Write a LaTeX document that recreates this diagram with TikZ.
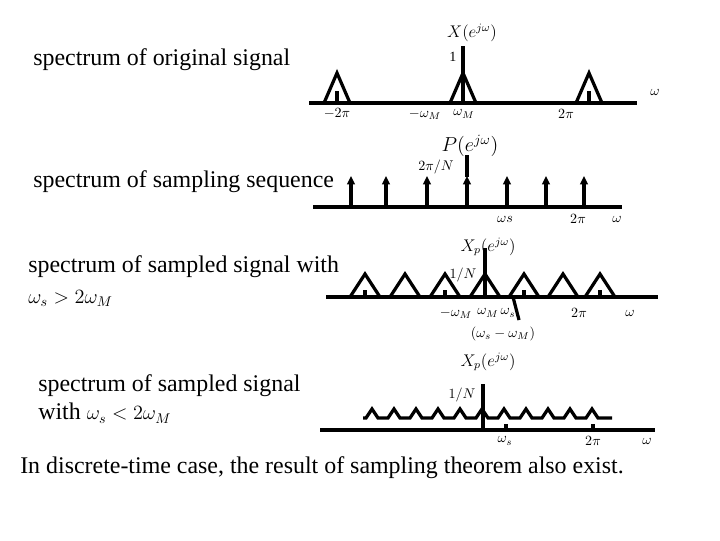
\documentclass[tikz,border=0pt]{standalone}
\usepackage{fontspec}
\setmainfont{Liberation Serif}
\usetikzlibrary{arrows.meta}

\begin{document}
\begin{tikzpicture}[x=0.025cm,y=-0.025cm,
        axis line/.style={line width=2.8pt},
        spec line/.style={line width=2.3pt,line join=miter},
        impulse/.style={spec line,-{Triangle[length=6pt,width=5.5pt]}},
        title/.style={font=\fontsize{17}{20}\selectfont,align=left,anchor=west,inner sep=0pt},
        lbl/.style={font=\fontsize{10}{12}\selectfont,inner sep=0pt},
        fn label/.style={font=\fontsize{12}{14}\selectfont,inner sep=0pt}]
	\useasboundingbox (0,0) rectangle (720,540);

	% original signal
	\node[title] (t1) at (33,60) {spectrum of original signal};
	\coordinate (a1l) at (309,103);
	\coordinate (a1r) at (637,103);
	\coordinate (top1) at (463,46);
	\coordinate (o1) at (463,103);
	\draw[axis line] (a1l) -- (a1r);
	\foreach \c in {337,463,589}
		\draw[spec line] (\c-13,103) -- (\c,73) -- (\c+13,103);
	\foreach \c in {337,589}
		\draw[spec line] (\c,91) -- (\c,103);
	\draw[spec line] (top1) -- (o1);
	\node[fn label] (X1) at (472,33) {$X(e^{j\omega})$};
	\node[lbl] (one) at (453,57) {1};
	\node[lbl] (w1) at (655,92) {$\omega$};
	\node[lbl] (mtwopi1) at (337,114) {$-2\pi$};
	\node[lbl] (mwM1) at (425,114) {$-\omega_M$};
	\node[lbl] (wM1) at (464,114) {$\omega_M$};
	\node[lbl] (twopi1) at (566,114) {$2\pi$};

	% sampling sequence
	\node[title] (t2) at (33,182) {spectrum of sampling sequence};
	\coordinate (a2l) at (313,207);
	\coordinate (a2r) at (622,207);
	\coordinate (top2) at (467,155);
	\draw[axis line] (a2l) -- (a2r);
	\foreach \c in {351,386,427,467,507,546,584}
		\draw[impulse] (\c,207) -- (\c,176);
	\draw[spec line] (467,177) -- (top2);
	\node[fn label,font=\fontsize{14}{16}\selectfont] (P) at (470,146) {$P(e^{j\omega})$};
	\node[lbl] (twopiN) at (436,167) {$2\pi/N$};
	\node[lbl] (ws2) at (505,219) {$\omega s$};
	\node[lbl] (twopi2) at (578,219) {$2\pi$};
	\node[lbl] (w2) at (617,219) {$\omega$};

	% sampled signal, no aliasing
	\node[title] (t3) at (28,281) {spectrum of sampled signal with\\[2pt]{\fontsize{14}{16}\selectfont$\omega_s > 2\omega_M$}};
	\coordinate (a3l) at (326,297);
	\coordinate (a3r) at (658,297);
	\coordinate (top3) at (485,248);
	\coordinate (o3) at (485,297);
	\coordinate (wsm) at (513,297);
	\coordinate (ptr) at (519,320);
	\draw[axis line] (a3l) -- (a3r);
	\foreach \c in {365,405,445,485,524,563,600}
		\draw[spec line] (\c-15,297) -- (\c,274) -- (\c+15,297);
	\foreach \c in {365,445,524,600}
		\draw[spec line] (\c,290) -- (\c,297);
	\draw[spec line] (top3) -- (o3);
	\draw[spec line] (wsm) -- (ptr);
	\node[fn label] (X3) at (488,247) {$X_p(e^{j\omega})$};
	\node[lbl] (oneN3) at (463,275) {$1/N$};
	\node[lbl] (mwM3) at (456,313) {$-\omega_M$};
	\node[lbl] (wM3) at (488,313) {$\omega_M$};
	\node[lbl] (ws3) at (508,313) {$\omega_s$};
	\node[lbl] (diff) at (503,334) {$(\omega_s-\omega_M)$};
	\node[lbl] (twopi3) at (579,313) {$2\pi$};
	\node[lbl] (w3) at (630,313) {$\omega$};

	% sampled signal, aliasing
	\node[title] (t4) at (38,399) {spectrum of sampled signal\\with {\fontsize{14}{16}\selectfont$\omega_s < 2\omega_M$}};
	\coordinate (a4l) at (320,430);
	\coordinate (a4r) at (655,430);
	\coordinate (top4) at (483,384);
	\coordinate (o4) at (483,430);
	\draw[axis line] (a4l) -- (a4r);
	\draw[spec line] (363,418) \foreach \k in {0,...,10} {
		-- ({372+22*\k-6},418) -- ({372+22*\k},409) -- ({372+22*\k+6},418)} -- (612,418);
	\foreach \c in {506,593}
		\draw[spec line] (\c,424) -- (\c,430);
	\draw[spec line] (top4) -- (o4);
	\node[fn label] (X4) at (488,362) {$X_p(e^{j\omega})$};
	\node[lbl] (oneN4) at (462,395) {$1/N$};
	\node[lbl] (ws4) at (505,441) {$\omega_s$};
	\node[lbl] (twopi4) at (593,441) {$2\pi$};
	\node[lbl] (w4) at (647,441) {$\omega$};

	\node[title] (note) at (20,468) {In discrete-time case, the result of sampling theorem also exist.};

\end{tikzpicture}
\end{document}
